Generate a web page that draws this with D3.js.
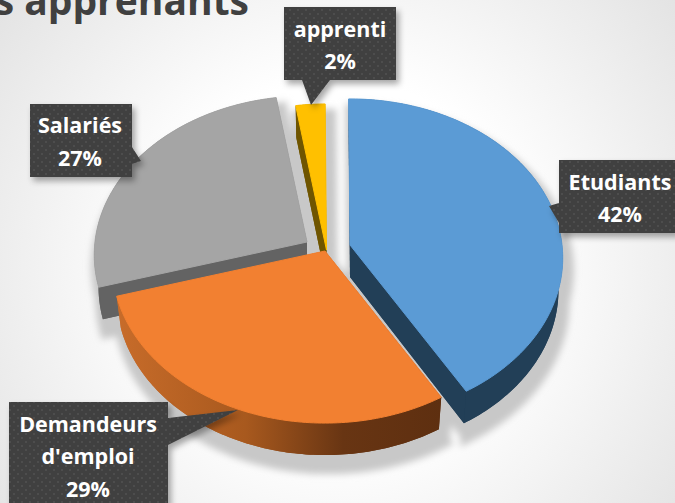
<!DOCTYPE html>
<html>
<head>
<meta charset="utf-8">
<script src="https://cdn.jsdelivr.net/npm/d3@7"></script>
<style>
  html, body { margin: 0; padding: 0; background: #fff; overflow: hidden; }
  text { font-family: "Open Sans", sans-serif; font-weight: 700; }
</style>
</head>
<body>
<div class="canvas"></div>
<script>
const categories = ['Etudiants', "Demandeurs d'emploi", 'Salariés', 'apprenti'];
const shares = [41.6, 29, 27, 2.4];

const dims = { width: 675, height: 503 };

// projected disc: radii and perspective of the tilted pie
const disc = { rx: 212, ry: 158, persp: 0.0818, depth: 32, shrink: 0.98 };

// one entry per slice, same order as categories
const sliceStyle = [
    { apex: [350, 245], top: '#5b9bd5', side: '#223f57' },
    { apex: [325, 251], top: '#f28031', side: 'url(#orangeSide)' },
    { apex: [307, 242], top: '#a5a5a5', side: '#636363' },
    { apex: [326.5, 250], top: '#ffc000', side: '#6f5500' }
];
const drawOrder = [3, 2, 0, 1];

// callout boxes: box rectangle, pointer tip, pointer base, text centre, baselines
const callouts = [
    { box: [559, 160, 118, 73], tip: [549, 206], base: [[559, 203], [559, 223]], cx: 620, lines: [190, 222] },
    { box: [9, 402, 159, 103], tip: [238, 410], base: [[168, 418], [168, 445]], cx: 88, lines: [432, 464, 497] },
    { box: [30, 104, 102, 73], tip: [141, 161], base: [[132, 147], [132, 164]], cx: 80, lines: [133, 166] },
    { box: [284, 7, 112, 73], tip: [311, 105], base: [[302, 80], [330, 80]], cx: 340, lines: [37, 69] }
];

const svg = d3.select('.canvas')
    .append('svg')
    .attr('width', dims.width)
    .attr('height', dims.height)
    .style('display', 'block');

const defs = svg.append('defs');

const bg = defs.append('radialGradient')
    .attr('id', 'bg')
    .attr('gradientUnits', 'userSpaceOnUse')
    .attr('cx', 340).attr('cy', 265).attr('r', 440);
bg.append('stop').attr('offset', 0.42).attr('stop-color', '#ffffff');
bg.append('stop').attr('offset', 1).attr('stop-color', '#e2e2e2');

const orangeSide = defs.append('linearGradient')
    .attr('id', 'orangeSide')
    .attr('gradientUnits', 'userSpaceOnUse')
    .attr('x1', 115).attr('x2', 441).attr('y1', 0).attr('y2', 0);
orangeSide.append('stop').attr('offset', 0).attr('stop-color', '#c86c2a');
orangeSide.append('stop').attr('offset', 0.4).attr('stop-color', '#a8591e');
orangeSide.append('stop').attr('offset', 0.7).attr('stop-color', '#683513');
orangeSide.append('stop').attr('offset', 1).attr('stop-color', '#5e2f10');

defs.append('filter')
    .attr('id', 'blur')
    .attr('x', '-20%').attr('y', '-20%').attr('width', '140%').attr('height', '140%')
    .append('feGaussianBlur')
    .attr('stdDeviation', 3.5);

const boxShadow = defs.append('filter')
    .attr('id', 'boxShadow')
    .attr('x', '-20%').attr('y', '-20%').attr('width', '140%').attr('height', '140%');
boxShadow.append('feDropShadow')
    .attr('dx', 3).attr('dy', 4).attr('stdDeviation', 3)
    .attr('flood-color', '#000').attr('flood-opacity', 0.35);

const dots = defs.append('pattern')
    .attr('id', 'dots')
    .attr('patternUnits', 'userSpaceOnUse')
    .attr('width', 8).attr('height', 8);
dots.append('rect').attr('width', 8).attr('height', 8).attr('fill', '#404040');
dots.append('circle').attr('cx', 2).attr('cy', 2).attr('r', 0.9).attr('fill', '#535353');
dots.append('circle').attr('cx', 6).attr('cy', 6).attr('r', 0.9).attr('fill', '#535353');

svg.append('rect')
    .attr('width', dims.width)
    .attr('height', dims.height)
    .attr('fill', 'url(#bg)');

// title is cut by the top and left of the slide
svg.append('text')
    .attr('x', 249)
    .attr('y', 15)
    .attr('text-anchor', 'end')
    .attr('font-size', 39)
    .attr('fill', '#404040')
    .text('s apprenants');

const toRad = d3.scaleLinear().domain([0, 360]).range([0, 2 * Math.PI]);

const pie = d3.pie()
    .sort(null)
    .startAngle(toRad(-0.4))
    .endAngle(toRad(359.6));

const angles = pie(shares);
const line = d3.line();

const project = (a, scale) => {
    const u = Math.sin(a), v = -Math.cos(a);
    const w = 1 - disc.persp * v;
    return [scale * disc.rx * u / w, disc.ry * v / w];
};

const arcPoints = (d, apex, scale, dy) => {
    const n = Math.ceil((d.endAngle - d.startAngle) / toRad(1)) + 1;
    const ts = d3.range(n + 1).map(i => d.startAngle + (d.endAngle - d.startAngle) * i / n);
    return ts.map(t => {
        const p = project(t, scale);
        return [apex[0] + p[0], apex[1] + p[1] + dy];
    });
};

const slices = angles.map((d, i) => {
    const apex = sliceStyle[i].apex;
    const topArc = arcPoints(d, apex, 1, 0);
    const lowApex = [apex[0], apex[1] + disc.depth];
    const lowArc = arcPoints(d, apex, disc.shrink, disc.depth);
    const last = topArc.length - 1;
    return {
        style: sliceStyle[i],
        top: line([apex, ...topArc]) + 'Z',
        low: line([lowApex, ...lowArc]) + 'Z',
        faceA: line([apex, topArc[0], lowArc[0], lowApex]) + 'Z',
        faceB: line([apex, topArc[last], lowArc[last], lowApex]) + 'Z',
        rim: line([...topArc, ...lowArc.slice().reverse()]) + 'Z'
    };
});

// soft shadow under the whole pie
const shadow = svg.append('g')
    .attr('filter', 'url(#blur)')
    .attr('transform', 'translate(4,12)');

slices.forEach(s => {
    [s.top, s.low, s.rim].forEach(p => {
        shadow.append('path')
            .attr('d', p)
            .attr('fill', '#c8c8c8')
            .attr('stroke', '#c8c8c8')
            .attr('stroke-width', 14);
    });
});

const graph = svg.append('g');

drawOrder.forEach(i => {
    const s = slices[i];
    [s.low, s.faceA, s.faceB, s.rim].forEach(p => {
        graph.append('path')
            .attr('d', p)
            .attr('fill', s.style.side);
    });
    // thin stroke in the face colour hides the side's antialiased edge
    graph.append('path')
        .attr('d', s.top)
        .attr('fill', s.style.top)
        .attr('stroke', s.style.top)
        .attr('stroke-width', 1);
});

// callouts
const labelGroup = svg.append('g');

callouts.forEach((c, i) => {
    const [x, y, w, h] = c.box;
    const g = labelGroup.append('g');

    const outline = d3.path();
    outline.rect(x, y, w, h);
    g.append('path')
        .attr('d', outline.toString() + line([c.base[0], c.tip, c.base[1]]) + 'Z')
        .attr('fill', 'url(#dots)')
        .attr('fill-rule', 'nonzero')
        .attr('filter', 'url(#boxShadow)');

    const pct = Math.round(shares[i]) + '%';
    const words = categories[i].split(' ').concat(pct);
    g.selectAll('text')
        .data(words)
        .enter()
        .append('text')
        .attr('x', c.cx)
        .attr('y', (d, j) => c.lines[j])
        .attr('text-anchor', 'middle')
        .attr('font-size', 21.5)
        .attr('fill', '#fff')
        .text(d => d);
});
</script>
</body>
</html>
